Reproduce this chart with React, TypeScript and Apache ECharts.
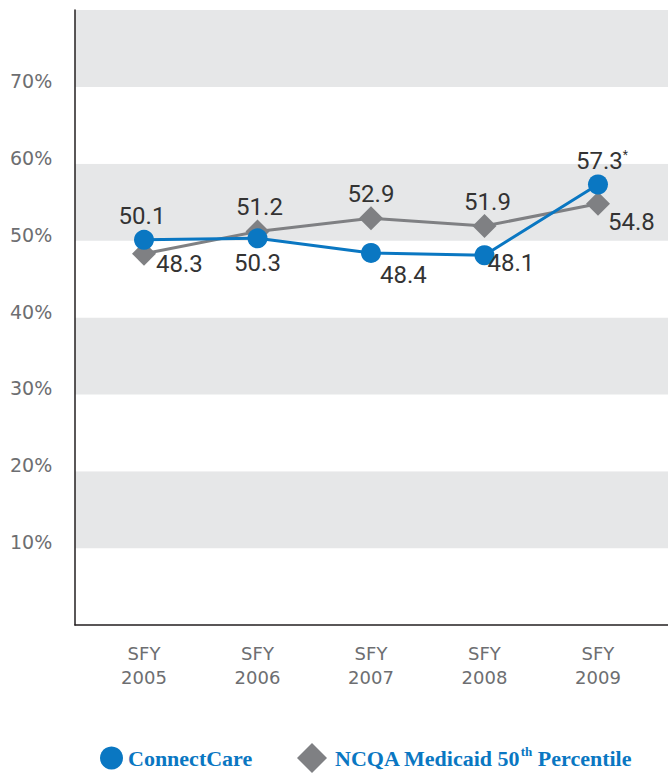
import React, { useEffect, useRef } from "react";
import * as echarts from "echarts";

const categories = ["SFY\n2005", "SFY\n2006", "SFY\n2007", "SFY\n2008", "SFY\n2009"];
const connectCare = [50.1, 50.3, 48.4, 48.1, 57.3];
const ncqa = [48.3, 51.2, 52.9, 51.9, 54.8];
const connectCareNotes = ["", "", "", "", "*"];
const yTickValues = [10, 20, 30, 40, 50, 60, 70];
const seriesNames = ["ConnectCare", "NCQA Medicaid 50th Percentile"];

const BLUE = "#0a77c2";
const GRAY = "#7f8083";
const BAND = "#e6e7e8";
const AXIS = "#231f20";
const TICK_TEXT = "#6d6e71";
const LABEL_TEXT = "#333333";

// label placement per point (style only)
const ccLabels = [
  { position: "top", distance: 2, offset: [-2, 0] },
  { position: "bottom", distance: 3, offset: [0, 0] },
  { position: "right", distance: 0, offset: [-1, 22] },
  { position: "right", distance: 0, offset: [-7, 8] },
  { position: "top", distance: 2, offset: [4, 0] },
];
const ncqaLabels = [
  { position: "right", distance: 0, offset: [0, 10] },
  { position: "top", distance: 0, offset: [2, 0] },
  { position: "top", distance: 0, offset: [0, 0] },
  { position: "top", distance: 0, offset: [3, 0] },
  { position: "right", distance: 0, offset: [-2, 18] },
];

export default function App() {
  const ref = useRef<HTMLDivElement>(null);
  useEffect(() => {
    document.body.style.margin = "0";
    if (!ref.current) return;
    const chart = echarts.init(ref.current, null, { renderer: "svg" });
    const labelFont = {
      fontFamily: "Roboto",
      fontSize: 24,
      color: LABEL_TEXT,
    };
    chart.setOption({
      animation: false,
      grid: { left: 75, right: 0, top: 10, bottom: 150 },
      xAxis: {
        type: "value",
        min: -0.608,
        max: 4.617,
        splitLine: { show: false },
        axisTick: { show: false },
        axisLine: { show: true, onZero: false, lineStyle: { color: AXIS, width: 1.5 } },
        axisLabel: {
          customValues: categories.map((_, i) => i),
          formatter: (v: number) => categories[Math.round(v)] ?? "",
          fontFamily: "DejaVu Sans",
          fontSize: 18,
          lineHeight: 24,
          color: TICK_TEXT,
          margin: 16,
        },
      },
      yAxis: {
        type: "value",
        min: 0,
        max: 80,
        interval: 10,
        splitLine: { show: false },
        splitArea: { show: true, areaStyle: { color: ["#ffffff", BAND] } },
        axisTick: { show: false },
        axisLine: { show: true, onZero: false, lineStyle: { color: AXIS, width: 1.5 } },
        axisLabel: {
          formatter: (v: number) => (yTickValues.includes(v) ? v + "%" : ""),
          fontFamily: "DejaVu Sans",
          fontSize: 19,
          color: TICK_TEXT,
          align: "left",
          margin: 65,
          verticalAlign: "bottom",
          lineHeight: 12,
        },
      },
      legend: [
        {
          data: [{ name: seriesNames[0], icon: "circle" }],
          left: 100,
          top: 745,
          padding: 0,
          itemWidth: 23,
          itemHeight: 23,
          itemGap: 0,
          textStyle: {
            fontFamily: "Liberation Serif",
            fontWeight: "bold",
            fontSize: 22,
            lineHeight: 26,
            color: BLUE,
          },
        },
        {
          data: [{ name: seriesNames[1], icon: "diamond" }],
          left: 297,
          top: 743,
          padding: 0,
          itemWidth: 30,
          itemHeight: 30,
          formatter: (n: string) => n.replace("50th", "50{sup|th}"),
          textStyle: {
            fontFamily: "Liberation Serif",
            fontWeight: "bold",
            fontSize: 22,
            lineHeight: 26,
            color: BLUE,
            padding: [0, 0, 0, 3],
            rich: {
              sup: {
                fontFamily: "Liberation Serif",
                fontWeight: "bold",
                fontSize: 13,
                color: BLUE,
                verticalAlign: "top",
                lineHeight: 14,
              },
            },
          },
        },
      ],
      series: [
        {
          name: seriesNames[1],
          type: "line",
          z: 2,
          symbol: "diamond",
          symbolSize: 24,
          lineStyle: { color: GRAY, width: 3 },
          itemStyle: { color: GRAY },
          data: ncqa.map((v, i) => ({
            value: [i, v],
            label: { show: true, ...labelFont, ...ncqaLabels[i], formatter: String(v) },
          })),
        },
        {
          name: seriesNames[0],
          type: "line",
          z: 3,
          symbol: "circle",
          symbolSize: 20,
          lineStyle: { color: BLUE, width: 3 },
          itemStyle: { color: BLUE },
          data: connectCare.map((v, i) => ({
            value: [i, v],
            label: {
              show: true,
              ...labelFont,
              ...ccLabels[i],
              formatter: String(v) + (connectCareNotes[i] ? "{ast|" + connectCareNotes[i] + "}" : ""),
              rich: {
                ast: {
                  fontFamily: "Roboto",
                  fontSize: 12,
                  color: LABEL_TEXT,
                  verticalAlign: "top",
                  lineHeight: 12,
                },
              },
            },
          })),
        },
      ],
    });
    return () => chart.dispose();
  }, []);
  return <div ref={ref} style={{ width: 668, height: 775 }} />;
}
